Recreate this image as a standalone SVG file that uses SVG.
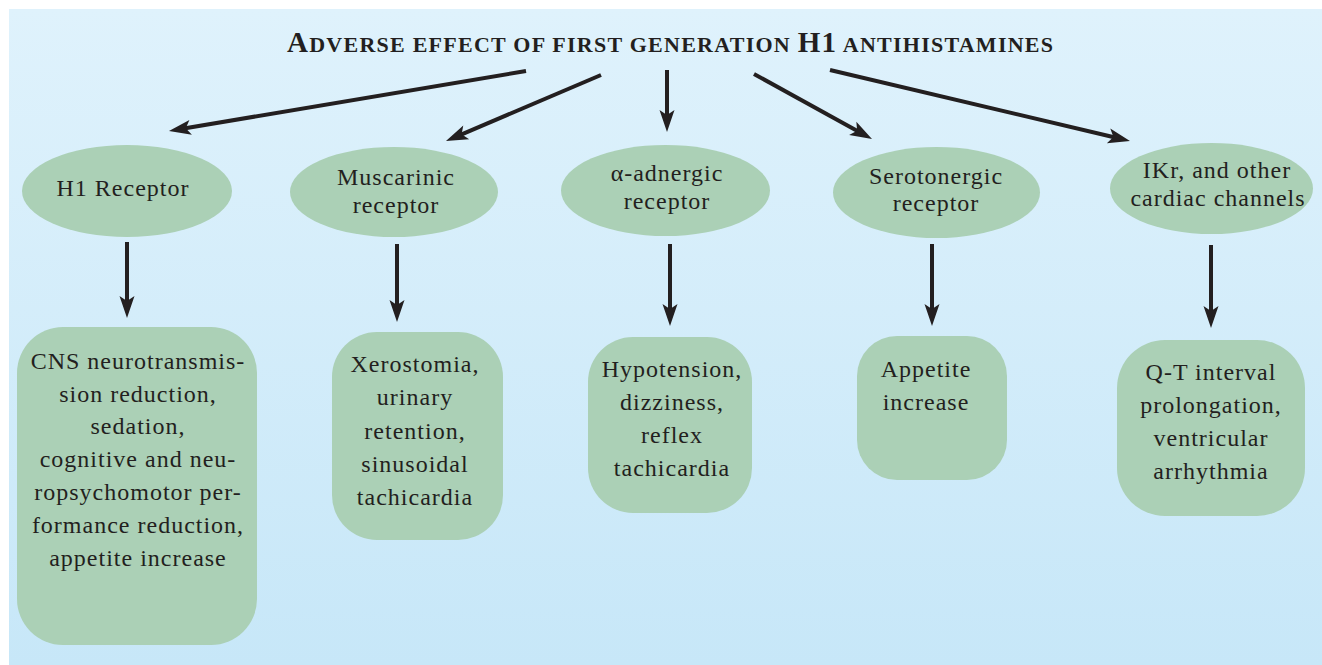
<svg xmlns="http://www.w3.org/2000/svg" width="1322" height="665" viewBox="0 0 1322 665">
<defs>
<linearGradient id="bg" x1="0" y1="0" x2="0" y2="1">
<stop offset="0" stop-color="#dff2fc"/>
<stop offset="1" stop-color="#c7e7f8"/>
</linearGradient>
<marker id="ah" markerUnits="userSpaceOnUse" orient="auto" refX="0" refY="0" markerWidth="40" markerHeight="40" overflow="visible">
<path d="M12,0 L-10,-7.5 L-5,0 L-10,7.5 Z" fill="#231f20"/>
</marker>
</defs>
<style>
.n{fill:#abd0b6;}
.t{font-family:"Liberation Serif","Times New Roman",serif;font-size:24px;letter-spacing:1px;fill:#231f20;text-anchor:middle;}
.c{stroke:#231f20;stroke-width:4;fill:none;marker-end:url(#ah);}
.title{font-family:"Liberation Serif","Times New Roman",serif;font-weight:bold;fill:#231f20;}
</style>
<rect x="9" y="9" width="1313" height="656" fill="url(#bg)"/>
<g id="title">
<text class="title" x="287" y="52" textLength="766" lengthAdjust="spacing"><tspan font-size="29">A</tspan><tspan font-size="22">DVERSE EFFECT OF FIRST GENERATION </tspan><tspan font-size="29">H1</tspan><tspan font-size="22"> ANTIHISTAMINES</tspan></text>
</g>
<g id="connectors">
<line class="c" x1="526" y1="71" x2="180.8" y2="129"/>
<line class="c" x1="601" y1="75" x2="457" y2="136.3"/>
<line class="c" x1="667" y1="70" x2="667" y2="120"/>
<line class="c" x1="754" y1="74" x2="861.5" y2="133.2"/>
<line class="c" x1="830" y1="70" x2="1118.3" y2="138.2"/>
<line class="c" x1="127" y1="242" x2="127" y2="306"/>
<line class="c" x1="397" y1="244" x2="397" y2="310"/>
<line class="c" x1="670" y1="244" x2="670" y2="314"/>
<line class="c" x1="932" y1="244" x2="932" y2="314"/>
<line class="c" x1="1211" y1="245" x2="1211" y2="316"/>
</g>
<g id="h1-receptor">
<ellipse class="n" cx="127" cy="191" rx="105" ry="46"/>
<text class="t" x="123" y="196">H1 Receptor</text>
</g>
<g id="muscarinic-receptor">
<ellipse class="n" cx="394" cy="192" rx="104" ry="45"/>
<text class="t" x="396" y="185">Muscarinic</text>
<text class="t" x="396" y="213">receptor</text>
</g>
<g id="alpha-adnergic-receptor">
<ellipse class="n" cx="665.5" cy="190.5" rx="104.5" ry="45.5"/>
<text class="t" x="667" y="181">α-adnergic</text>
<text class="t" x="667" y="209">receptor</text>
</g>
<g id="serotonergic-receptor">
<ellipse class="n" cx="936.5" cy="192.5" rx="103.5" ry="45.5"/>
<text class="t" x="936" y="184">Serotonergic</text>
<text class="t" x="936" y="211">receptor</text>
</g>
<g id="ikr-channels">
<ellipse class="n" cx="1211.5" cy="188.5" rx="101.5" ry="45.5"/>
<text class="t" x="1217" y="178">IKr, and other</text>
<text class="t" x="1218" y="206">cardiac channels</text>
</g>
<g id="cns-effects">
<rect class="n" x="17" y="327" width="240" height="318" rx="46" ry="46"/>
<text class="t" x="138" y="369">CNS neurotransmis-</text>
<text class="t" x="138" y="402">sion reduction,</text>
<text class="t" x="138" y="434">sedation,</text>
<text class="t" x="138" y="467">cognitive and neu-</text>
<text class="t" x="138" y="500">ropsychomotor per-</text>
<text class="t" x="138" y="533">formance reduction,</text>
<text class="t" x="138" y="566">appetite increase</text>
</g>
<g id="muscarinic-effects">
<rect class="n" x="332" y="332" width="171" height="208" rx="45" ry="45"/>
<text class="t" x="415" y="372">Xerostomia,</text>
<text class="t" x="415" y="405">urinary</text>
<text class="t" x="415" y="439">retention,</text>
<text class="t" x="415" y="472">sinusoidal</text>
<text class="t" x="415" y="505">tachicardia</text>
</g>
<g id="alpha-effects">
<rect class="n" x="588" y="337" width="164" height="176" rx="45" ry="45"/>
<text class="t" x="672" y="377">Hypotension,</text>
<text class="t" x="672" y="410">dizziness,</text>
<text class="t" x="672" y="443">reflex</text>
<text class="t" x="672" y="476">tachicardia</text>
</g>
<g id="serotonergic-effects">
<rect class="n" x="857" y="336" width="150" height="144" rx="40" ry="40"/>
<text class="t" x="926" y="377">Appetite</text>
<text class="t" x="926" y="410">increase</text>
</g>
<g id="cardiac-effects">
<rect class="n" x="1117" y="340" width="188" height="176" rx="48" ry="48"/>
<text class="t" x="1211" y="380">Q-T interval</text>
<text class="t" x="1211" y="413">prolongation,</text>
<text class="t" x="1211" y="446">ventricular</text>
<text class="t" x="1211" y="479">arrhythmia</text>
</g>
</svg>
